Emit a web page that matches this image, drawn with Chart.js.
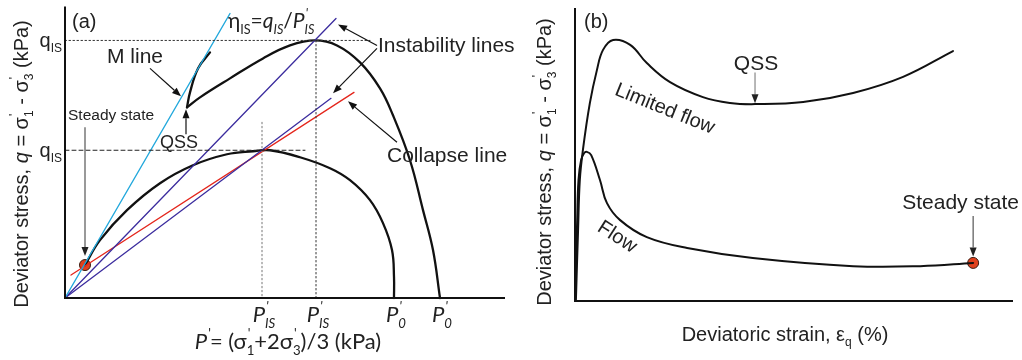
<!DOCTYPE html>
<html>
<head>
<meta charset="utf-8">
<script src="https://cdn.jsdelivr.net/npm/chart.js@4/dist/chart.umd.min.js"></script>
<style>
  html, body { margin: 0; padding: 0; background: #fff; }
  #wrap { position: relative; width: 1022px; height: 360px; overflow: hidden; }
  #boxA { position: absolute; left: 0; top: 0; width: 520px; height: 360px; }
  #boxB { position: absolute; left: 520px; top: 0; width: 502px; height: 360px; }
</style>
</head>
<body>
<div id="wrap">
  <div id="boxA"><canvas id="chart_a"></canvas></div>
  <div id="boxB"><canvas id="chart_b"></canvas></div>
</div>
<script>
// ---- (a) stress paths in p'-q space (schematic units) ----
const lowP  = [5, 8.75, 15.5, 23.75, 32, 40.5, 47, 51.25, 58.75, 66.25, 71.25, 76.25, 79.5, 81.75, 82.25, 82.25];
const lowQ  = [8.25, 14.5, 22, 28.75, 33.25, 36, 36.75, 37, 35.25, 32.5, 29.5, 24.5, 18.75, 12, 5.25, 0];
const highP = [30.5, 33.75, 41.25, 49.5, 56.25, 62.5, 68, 73.75, 78.75, 82, 86.25, 89.5, 92, 93.75];
const highQ = [47.75, 50.25, 55, 60, 63.25, 64.5, 63.25, 59, 52.5, 45.75, 34.5, 22, 12, 0];
const qssTailP = [30.5, 31.25, 33.25, 36.25];
const qssTailQ = [47.75, 51.5, 57.5, 61.5];
const mLine        = [[0, 0], [41.25, 71.25]];
const instUpper    = [[0, 0], [67.75, 70]];
const instLower    = [[0, 0], [66.5, 50]];
const collapseLine = [[1.5, 5.75], [72.25, 51.5]];
const qIsHigh = 64.5, qIsLow = 37;
const pIsLow = 49.25, pIsHigh = 62.75, p0Low = 82.25, p0High = 93.75;
const steadyA = [5, 8.25];

// ---- (b) deviator stress vs deviatoric strain ----
const limStrain = [0.2, 0.7, 1.1, 1.8, 3.4, 5, 6.4, 8.7, 12.6, 16.4, 21.7, 29.2, 35.4, 41.1, 52.1, 63.5, 74.9, 86.3];
const limStress = [0, 24.2, 41.3, 51.5, 67.6, 78.8, 85.7, 89.1, 87.4, 81.2, 74.7, 69.6, 67.6, 67.2, 67.9, 71, 76.5, 85.3];
const flowStrain = [0, 0.5, 0.8, 1.4, 2.1, 2.7, 3.7, 5.7, 7.3, 10.3, 16.4, 25.6, 40.6, 63.5, 78.8, 90.9];
const flowStress = [0, 27.6, 41.3, 48.1, 50.5, 50.9, 49.8, 41.3, 33.4, 27.6, 21.8, 18.1, 14.7, 11.9, 11.9, 13];
const qssB = [41.1, 67.2];
const steadyB = [90.9, 13];

const SANS = '"Liberation Sans", Arial, sans-serif';
const CAL = 'Lato, "Open Sans", sans-serif';
const RED_DOT = '#e0401c';

function xy(xs, ys) { return xs.map((x, i) => ({x: x, y: ys[i]})); }
function pts(arr) { return arr.map(p => ({x: p[0], y: p[1]})); }

function fontStr(it, size, fam) { return (it ? 'italic ' : '') + size + 'px ' + fam; }

// text with sub/superscripts: parts are strings or {t, it, sub, sup, si}
function measureRich(ctx, parts, size, fam) {
    let w = 0;
    for (const p of parts) {
        const q = typeof p === 'string' ? {t: p} : p;
        ctx.font = fontStr(q.it, size, fam);
        w += ctx.measureText(q.t || '').width;
        let sw = 0;
        ctx.font = fontStr(q.si, size * 0.6, fam);
        if (q.sub) sw = Math.max(sw, ctx.measureText(q.sub).width);
        if (q.sup) sw = Math.max(sw, ctx.measureText(q.sup).width);
        w += sw;
    }
    return w;
}

function drawRich(ctx, x, y, parts, size, fam, align) {
    const w = measureRich(ctx, parts, size, fam);
    let cx = x;
    if (align === 'center') cx -= w / 2;
    else if (align === 'right') cx -= w;
    ctx.textAlign = 'left';
    ctx.textBaseline = 'alphabetic';
    for (const p of parts) {
        const q = typeof p === 'string' ? {t: p} : p;
        ctx.font = fontStr(q.it, size, fam);
        ctx.fillText(q.t || '', cx, y);
        cx += ctx.measureText(q.t || '').width;
        ctx.font = fontStr(q.si, size * 0.6, fam);
        let sw = 0;
        if (q.sub) { ctx.fillText(q.sub, cx, y + size * 0.25); sw = Math.max(sw, ctx.measureText(q.sub).width); }
        if (q.sup) { ctx.fillText(q.sup, cx + 1, y - size * 0.5); sw = Math.max(sw, ctx.measureText(q.sup).width); }
        cx += sw;
    }
}

function arrow(ctx, x1, y1, x2, y2, color, head) {
    const a = Math.atan2(y2 - y1, x2 - x1);
    const L = 9, W = 3.5;
    const bx = x2 - L * Math.cos(a), by = y2 - L * Math.sin(a);
    ctx.save();
    ctx.strokeStyle = color;
    ctx.lineWidth = 1.2;
    ctx.beginPath(); ctx.moveTo(x1, y1); ctx.lineTo(bx, by); ctx.stroke();
    ctx.fillStyle = head || color;
    ctx.beginPath();
    ctx.moveTo(x2, y2);
    ctx.lineTo(bx + W * Math.sin(a), by - W * Math.cos(a));
    ctx.lineTo(bx - W * Math.sin(a), by + W * Math.cos(a));
    ctx.closePath(); ctx.fill();
    ctx.restore();
}

function drawAxes(chart) {
    const {ctx, chartArea: a} = chart;
    ctx.save();
    ctx.strokeStyle = '#111';
    ctx.lineWidth = 2;
    ctx.beginPath();
    ctx.moveTo(a.left, a.top);
    ctx.lineTo(a.left, a.bottom);
    ctx.lineTo(a.right, a.bottom);
    ctx.stroke();
    ctx.restore();
}

const yTitle = ['Deviator stress, ', {t: 'q', it: true}, ' = \u03c3', {sup: "'", sub: '1'},
                ' - \u03c3', {sup: "'", sub: '3'}, ' (kPa)'];

function drawYTitle(ctx, x, y) {
    ctx.save();
    ctx.translate(x, y);
    ctx.rotate(-Math.PI / 2);
    ctx.fillStyle = '#222';
    drawRich(ctx, 0, 0, yTitle, 20, SANS, 'center');
    ctx.restore();
}

function baseOptions(xMax, yMax, pad) {
    return {
        responsive: true,
        maintainAspectRatio: false,
        animation: false,
        layout: {padding: pad},
        plugins: {legend: {display: false}, tooltip: {enabled: false}},
        scales: {
            x: {type: 'linear', min: 0, max: xMax, display: false},
            y: {type: 'linear', min: 0, max: yMax, display: false}
        },
        elements: {point: {radius: 0}, line: {borderCapStyle: 'round', borderJoinStyle: 'round'}}
    };
}

function line(data, color, width, extra) {
    return Object.assign({
        data: data, showLine: true, borderColor: color, borderWidth: width,
        pointRadius: 0, fill: false, clip: false
    }, extra || {});
}

// ---------- chart (a) ----------
const annotateA = {
    id: 'annotateA',
    afterDatasetsDraw(chart) {
        const {ctx} = chart;
        const sx = chart.scales.x, sy = chart.scales.y;
        const X = v => sx.getPixelForValue(v), Y = v => sy.getPixelForValue(v);
        drawAxes(chart);
        ctx.save();
        ctx.fillStyle = '#222';

        ctx.font = '20px ' + SANS;
        ctx.textAlign = 'left'; ctx.textBaseline = 'alphabetic';
        ctx.fillText('(a)', X(1.75), Y(67.5));

        ctx.font = '21px ' + SANS;
        ctx.fillText('M line', X(10.5), Y(58.75));
        arrow(ctx, X(21.25), Y(57.5), X(29), Y(50.5), '#111');

        ctx.font = '15.5px ' + SANS;
        ctx.fillText('Steady state', X(0.75), Y(44.5));
        arrow(ctx, X(5), Y(42.75), X(5), Y(10.5), '#555', '#222');

        ctx.font = '18px ' + SANS;
        ctx.fillText('QSS', X(23.75), Y(37.5));
        arrow(ctx, X(30.25), Y(41), X(30.25), Y(47.25), '#111');

        ctx.font = '21px ' + SANS;
        ctx.fillText('Instability lines', X(78.25), Y(61.5));
        arrow(ctx, X(78), Y(63.25), X(68.25), Y(68.5), '#111');
        arrow(ctx, X(78), Y(62.5), X(67), Y(51.25), '#111');

        ctx.fillText('Collapse line', X(80.5), Y(34));
        arrow(ctx, X(83), Y(39), X(70.75), Y(49.25), '#111');

        // eta_IS = q_IS / P'_IS
        drawRich(ctx, X(40.75), Y(67.5),
            [{t: '\u03b7', sub: 'IS'}, '=', {t: 'q', it: true, sub: 'IS', si: true},
             '/', {t: 'P', it: true, sup: "'", sub: 'IS', si: true}], 21, CAL, 'left');

        // q_IS marks on the q axis
        drawRich(ctx, X(0) - 3, Y(qIsHigh) + 7, [{t: 'q', sub: 'IS'}], 20, SANS, 'right');
        drawRich(ctx, X(0) - 3, Y(qIsLow) + 7, [{t: 'q', sub: 'IS'}], 20, SANS, 'right');

        // p' marks on the p' axis
        const ticks = [[pIsLow, 'IS'], [pIsHigh, 'IS'], [p0Low, '0'], [p0High, '0']];
        for (const t of ticks) {
            drawRich(ctx, X(t[0]) + 2, Y(0) + 24, [{t: 'P', it: true, sup: "'", sub: t[1], si: true}], 22, CAL, 'center');
        }
        const a = chart.chartArea;
        drawRich(ctx, 288, 349,
            [{t: 'P', it: true, sup: "'"}, '= (\u03c3', {sup: "'", sub: '1'}, '+2\u03c3', {sup: "'", sub: '3'}, ')/3 (kPa)'],
            22, CAL, 'center');

        drawYTitle(ctx, 28, 164);
        ctx.restore();
    }
};

const guideA = {borderDash: [1.5, 2.5]};
new Chart(document.getElementById('chart_a').getContext('2d'), {
    type: 'scatter',
    data: {
        datasets: [
            line([{x: 0, y: qIsHigh}, {x: 76.25, y: qIsHigh}], '#333', 1, guideA),
            line([{x: 0, y: qIsLow}, {x: 60, y: qIsLow}], '#222', 1, {borderDash: [4, 3]}),
            line([{x: pIsLow, y: 44}, {x: pIsLow, y: 0}], '#777', 1, guideA),
            line([{x: pIsHigh, y: qIsHigh}, {x: pIsHigh, y: 0}], '#333', 1, guideA),
            line(pts(mLine), '#22a8dc', 1.4),
            line(pts(instUpper), '#3b2c9e', 1.3),
            line(pts(instLower), '#3b2c9e', 1.3),
            line(pts(collapseLine), '#e4261c', 1.3),
            line(xy(lowP, lowQ), '#111', 2.3, {tension: 0.4}),
            line(xy(highP, highQ), '#111', 2.3, {tension: 0.4}),
            line(xy(qssTailP, qssTailQ), '#111', 2.3, {tension: 0.4}),
            {data: [{x: steadyA[0], y: steadyA[1]}], showLine: false, pointRadius: 5.5,
             backgroundColor: RED_DOT, borderColor: '#3a1a10', borderWidth: 1, clip: false}
        ]
    },
    options: baseOptions(110, 73, {left: 65, right: 15, top: 6, bottom: 62}),
    plugins: [annotateA]
});

// ---------- chart (b) ----------
const annotateB = {
    id: 'annotateB',
    afterDatasetsDraw(chart) {
        const {ctx} = chart;
        const sx = chart.scales.x, sy = chart.scales.y;
        const X = v => sx.getPixelForValue(v), Y = v => sy.getPixelForValue(v);
        drawAxes(chart);
        ctx.save();
        ctx.fillStyle = '#222';
        ctx.textAlign = 'left'; ctx.textBaseline = 'alphabetic';

        ctx.font = '20px ' + SANS;
        ctx.fillText('(b)', X(2.05), Y(93.2));

        ctx.font = '21px ' + SANS;
        ctx.textAlign = 'center';
        ctx.fillText('QSS', X(qssB[0]) + 1, Y(78.8));
        arrow(ctx, X(qssB[0]), Y(78), X(qssB[0]), Y(qssB[1] + 0.3), '#888', '#222');

        ctx.textAlign = 'left';
        ctx.fillText('Steady state', X(74.7), Y(31.4));
        arrow(ctx, X(steadyB[0]), Y(29), X(steadyB[0]), Y(steadyB[1] + 2.2), '#555', '#222');

        // rotated curve names
        ctx.textAlign = 'center'; ctx.textBaseline = 'middle';
        ctx.font = '20px ' + SANS;
        ctx.save();
        ctx.translate(X(20.5), Y(65.5));
        ctx.rotate(22 * Math.PI / 180);
        ctx.fillText('Limited flow', 0, 0);
        ctx.restore();
        ctx.save();
        ctx.translate(X(9.6), Y(21.8));
        ctx.rotate(33 * Math.PI / 180);
        ctx.fillText('Flow', 0, 0);
        ctx.restore();

        drawRich(ctx, 265, 341, ['Deviatoric strain, \u03b5', {sub: 'q'}, ' (%)'], 20, SANS, 'center');
        drawYTitle(ctx, 31, 162);
        ctx.restore();
    }
};

new Chart(document.getElementById('chart_b').getContext('2d'), {
    type: 'scatter',
    data: {
        datasets: [
            line(xy(limStrain, limStress), '#111', 2, {tension: 0.4}),
            line(xy(flowStrain, flowStress), '#111', 2, {tension: 0.4}),
            {data: [{x: steadyB[0], y: steadyB[1]}], showLine: false, pointRadius: 5.5,
             backgroundColor: RED_DOT, borderColor: '#3a1a10', borderWidth: 1, clip: false}
        ]
    },
    options: baseOptions(100, 100, {left: 55, right: 9, top: 8, bottom: 59}),
    plugins: [annotateB]
});
</script>
</body>
</html>
